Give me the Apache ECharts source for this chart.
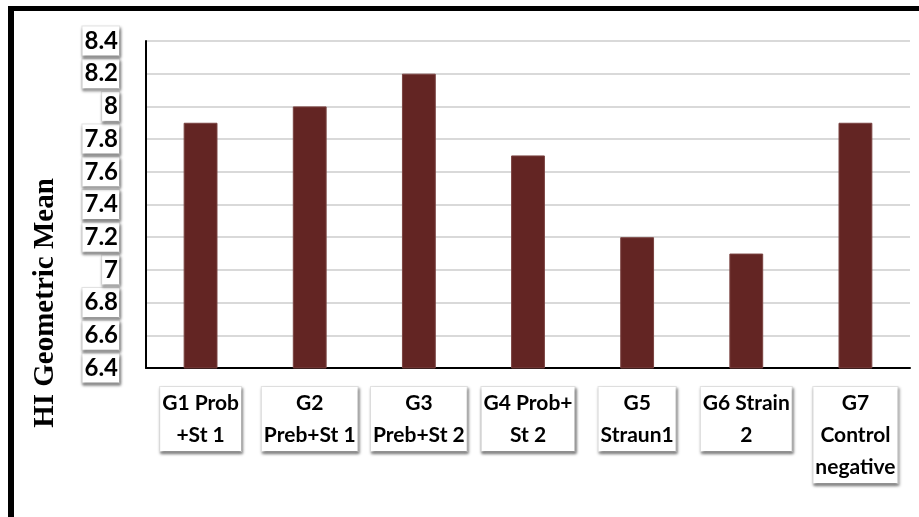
<!DOCTYPE html>
<html>
<head>
<meta charset="utf-8">
<style>
  html, body { margin: 0; padding: 0; background: #fff; }
  #chart { width: 919px; height: 517px; }
</style>
<script src="https://cdn.jsdelivr.net/npm/echarts@6/dist/echarts.min.js"></script>
</head>
<body>
<div id="chart"></div>
<script>
// Groups and their HI geometric mean values
const categories = [
  'G1 Prob\n+St 1',
  'G2\nPreb+St 1',
  'G3\nPreb+St 2',
  'G4 Prob+\nSt 2',
  'G5\nStraun1',
  'G6 Strain\n2',
  'G7\nControl\nnegative'
];
const hiGeometricMean = [7.9, 8.0, 8.2, 7.7, 7.2, 7.1, 7.9];
const yMin = 6.4;
const yMax = 8.4;
const yStep = 0.2;
const yTitle = 'HI Geometric Mean';

const chart = echarts.init(document.getElementById('chart'));

const boxedLabel = {
  backgroundColor: '#ffffff',
  borderColor: '#e4e4e4',
  borderWidth: 1,
  shadowColor: 'rgba(0,0,0,0.45)',
  shadowBlur: 3,
  shadowOffsetX: 1,
  shadowOffsetY: 2
};

chart.setOption({
  animation: false,
  grid: { left: 146, right: 9, top: 41, bottom: 149 },
  xAxis: {
    type: 'category',
    data: categories,
    axisLine: { lineStyle: { color: '#000', width: 2 } },
    axisTick: { show: false },
    axisLabel: Object.assign({
      interval: 0,
      margin: 19,
      color: '#000',
      fontFamily: 'Lato',
      fontWeight: 'bold',
      fontSize: 21,
      lineHeight: 32,
      padding: [0, 2, 0, 2],
      align: 'center'
    }, boxedLabel)
  },
  yAxis: {
    type: 'value',
    min: yMin,
    max: yMax,
    interval: yStep,
    axisLine: { show: true, lineStyle: { color: '#000', width: 2 } },
    axisTick: { show: false },
    splitLine: { lineStyle: { color: '#d9d9d9', width: 2 } },
    axisLabel: Object.assign({
      margin: 27,
      color: '#000',
      fontFamily: 'Lato',
      fontWeight: 'bold',
      fontSize: 24,
      padding: [3, 1, 2, 2],
      formatter: v => String(Math.round(v * 10) / 10)
    }, boxedLabel)
  },
  series: [{
    type: 'bar',
    data: hiGeometricMean,
    barWidth: '31%',
    itemStyle: { color: '#632523', borderColor: '#7a4341', borderWidth: 1 }
  }],
  graphic: [
    {
      type: 'text',
      x: 46, y: 303,
      rotation: Math.PI / 2,
      style: {
        text: yTitle,
        fill: '#000',
        font: 'bold 29px "Liberation Serif", "Times New Roman", serif',
        textAlign: 'center',
        textVerticalAlign: 'middle'
      }
    },
    {
      type: 'line',
      shape: { x1: 8, y1: 8.5, x2: 919, y2: 8.5 },
      style: { stroke: '#000', lineWidth: 5 }
    },
    {
      type: 'line',
      shape: { x1: 11, y1: 6, x2: 11, y2: 517 },
      style: { stroke: '#000', lineWidth: 6 }
    }
  ]
});
</script>
</body>
</html>
